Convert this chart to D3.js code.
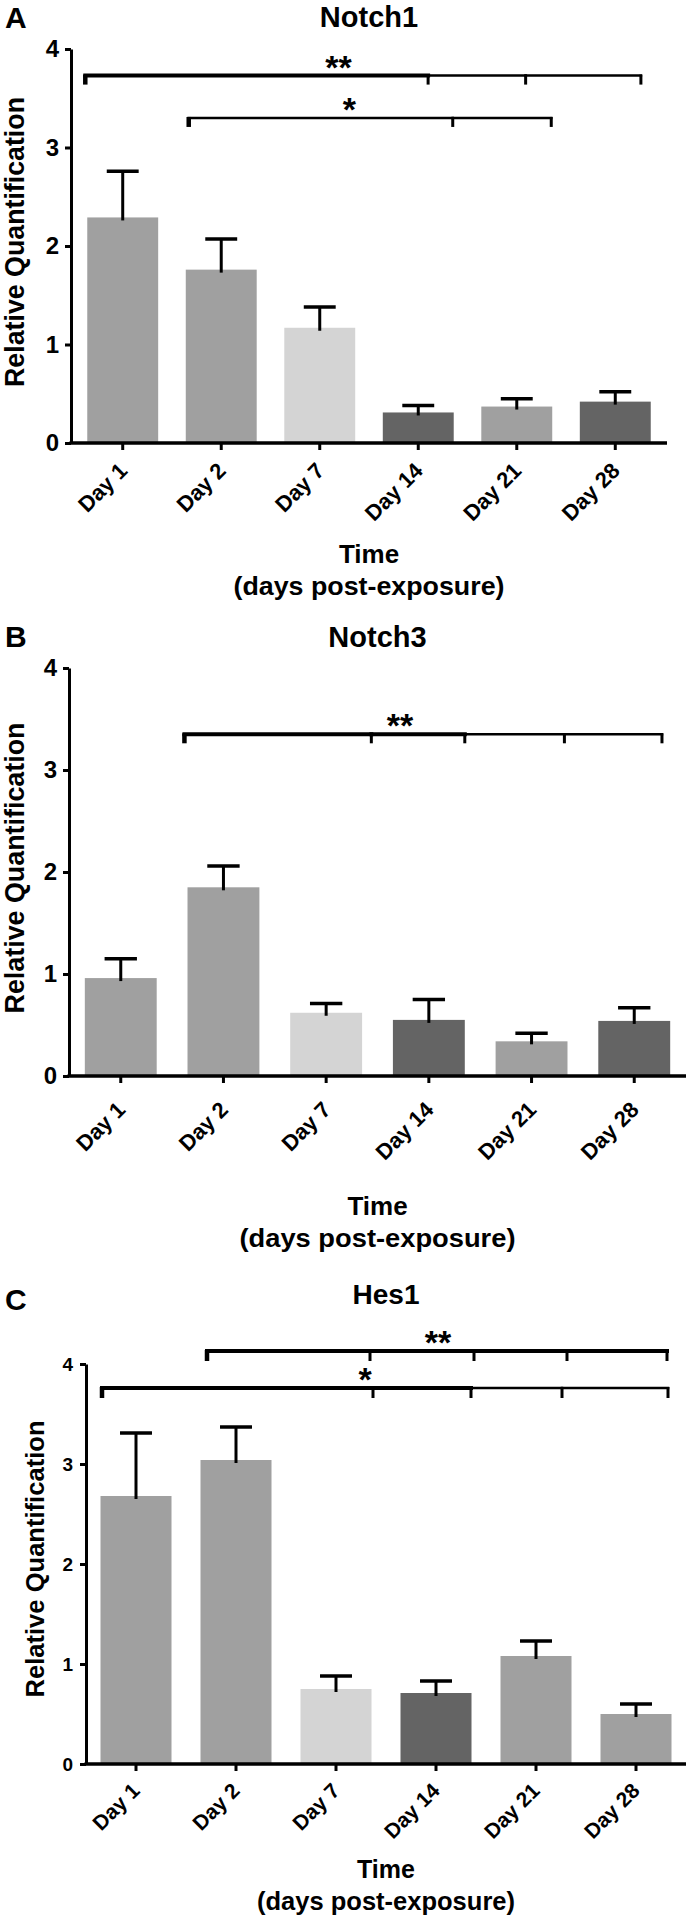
<!DOCTYPE html>
<html>
<head>
<meta charset="utf-8">
<script src="https://cdn.jsdelivr.net/npm/d3@7"></script>
<style>
  body { margin: 0; background: #fff; }
  svg { display: block; background: #fff; }
  text { font-family: "Liberation Sans", Arial, sans-serif; font-weight: bold; fill: #000; }
</style>
</head>
<body>
<svg id="chart" width="690" height="1919"></svg>
<script>
// ---------------- DATA ----------------
const categories = ["Day 1", "Day 2", "Day 7", "Day 14", "Day 21", "Day 28"];
const yTicks = [0, 1, 2, 3, 4];

const notch1Values = [2.29, 1.76, 1.17, 0.31, 0.37, 0.42];
const notch1Errors = [0.47, 0.31, 0.21, 0.07, 0.08, 0.10];
const notch1Shades = ["mid", "mid", "light", "dark", "mid", "dark"];

const notch3Values = [0.96, 1.85, 0.62, 0.55, 0.34, 0.54];
const notch3Errors = [0.19, 0.21, 0.09, 0.20, 0.08, 0.13];
const notch3Shades = ["mid", "mid", "light", "dark", "mid", "dark"];

const hes1Values = [2.68, 3.04, 0.75, 0.71, 1.08, 0.50];
const hes1Errors = [0.63, 0.33, 0.13, 0.12, 0.15, 0.10];
const hes1Shades = ["mid", "mid", "light", "dark", "mid", "mid"];

// significance brackets: y in data units, points / label position in category-index units
const notch1Brackets = [
  { label: "**", y: 3.73, points: [-0.38, 3.10, 4.09, 5.26], thickTo: 1, labelAt: 2.19 },
  { label: "*",  y: 3.30, points: [0.67, 3.35, 4.35],        thickTo: 0, labelAt: 2.30 }
];
const notch3Brackets = [
  { label: "**", y: 3.35, points: [0.62, 2.44, 3.35, 4.32, 5.27], thickTo: 2, labelAt: 2.72 }
];
const hes1Brackets = [
  { label: "**", y: 4.13, points: [0.71, 2.34, 3.38, 4.31, 5.31], thickTo: 4, labelAt: 3.02 },
  { label: "*",  y: 3.76, points: [-0.34, 2.37, 3.35, 4.26, 5.32], thickTo: 2, labelAt: 2.29 }
];

const yTitle = "Relative Quantification";
const xTitle = "Time";
const xSubTitle = "(days post-exposure)";

// ---------------- STYLE ----------------
const shadeColors = { mid: "#a0a0a0", light: "#d4d4d4", dark: "#646464" };
const FONT = "'Liberation Sans', Arial, sans-serif";

const svg = d3.select("#chart");

function drawPanel(cfg) {
  const g = svg.append("g");

  const x = d3.scaleBand()
    .domain(categories)
    .range([cfg.x0, cfg.x1])
    .paddingInner(cfg.padInner)
    .paddingOuter(cfg.padOuter);
  const y = d3.scaleLinear().domain([0, 4]).range([cfg.yBottom, cfg.yTop]);
  const idx = d3.scaleLinear()
    .domain([0, categories.length - 1])
    .range([x(categories[0]) + x.bandwidth() / 2, x(categories[categories.length - 1]) + x.bandwidth() / 2]);

  // panel letter and title
  g.append("text").attr("x", cfg.letterX).attr("y", cfg.letterY)
    .style("font-size", cfg.letterFont + "px").text(cfg.letter);
  g.append("text").attr("x", (cfg.x0 + cfg.x1) / 2).attr("y", cfg.titleY)
    .attr("text-anchor", "middle").style("font-size", cfg.titleFont + "px").text(cfg.title);

  // bars
  const data = categories.map((c, i) => ({ c, v: cfg.values[i], e: cfg.errors[i], s: cfg.shades[i] }));
  g.selectAll("rect.bar").data(data).enter().append("rect")
    .attr("class", "bar")
    .attr("x", d => x(d.c))
    .attr("width", x.bandwidth())
    .attr("y", d => y(d.v))
    .attr("height", d => y(0) - y(d.v))
    .attr("fill", d => shadeColors[d.s]);

  // error bars (upper)
  const capW = x.bandwidth() * 0.45;
  const eb = g.selectAll("g.err").data(data).enter().append("g").attr("class", "err");
  eb.append("line")
    .attr("x1", d => x(d.c) + x.bandwidth() / 2).attr("x2", d => x(d.c) + x.bandwidth() / 2)
    .attr("y1", d => y(d.v) + 3).attr("y2", d => y(d.v + d.e))
    .attr("stroke", "#000").attr("stroke-width", 3);
  eb.append("line")
    .attr("x1", d => x(d.c) + x.bandwidth() / 2 - capW / 2)
    .attr("x2", d => x(d.c) + x.bandwidth() / 2 + capW / 2)
    .attr("y1", d => y(d.v + d.e)).attr("y2", d => y(d.v + d.e))
    .attr("stroke", "#000").attr("stroke-width", 3.5);

  // y axis
  const yAxis = g.append("g").attr("transform", `translate(${cfg.x0},0)`)
    .call(d3.axisLeft(y).tickValues(yTicks).tickFormat(d3.format("d")).tickSize(6).tickSizeOuter(0).tickPadding(cfg.yTickPad));
  yAxis.select(".domain").attr("stroke", "#000").attr("stroke-width", 3);
  yAxis.selectAll(".tick line").attr("stroke", "#000").attr("stroke-width", 3);
  yAxis.selectAll(".tick text").style("font-size", cfg.tickFont + "px")
    .style("font-family", FONT).style("font-weight", "bold").attr("fill", "#000");

  // x axis
  const xAxis = g.append("g").attr("transform", `translate(0,${cfg.yBottom})`)
    .call(d3.axisBottom(x).tickSize(7).tickSizeOuter(0).tickPadding(0));
  xAxis.select(".domain").remove();
  xAxis.append("line").attr("x1", cfg.x0 - 1.5).attr("x2", cfg.x1).attr("y1", 0).attr("y2", 0)
    .attr("stroke", "#000").attr("stroke-width", 3.5);
  xAxis.selectAll(".tick line").attr("stroke", "#000").attr("stroke-width", 3);
  xAxis.selectAll(".tick text")
    .style("font-size", cfg.labelFont + "px")
    .style("font-family", FONT).style("font-weight", "bold")
    .attr("fill", "#000")
    .attr("text-anchor", "end")
    .attr("dy", null)
    .attr("y", 0)
    .attr("transform", `translate(${cfg.labelDx},${cfg.labelDy}) rotate(-45)`);

  // axis titles
  g.append("text")
    .attr("transform", `translate(${cfg.yTitleX},${cfg.yTitleCY}) rotate(-90)`)
    .attr("text-anchor", "middle")
    .style("font-size", cfg.yTitleFont + "px")
    .attr("textLength", cfg.yTitleLen).attr("lengthAdjust", "spacingAndGlyphs")
    .text(yTitle);
  g.append("text").attr("x", (cfg.x0 + cfg.x1) / 2).attr("y", cfg.timeY)
    .attr("text-anchor", "middle").style("font-size", cfg.axisFont + "px").text(xTitle);
  g.append("text").attr("x", (cfg.x0 + cfg.x1) / 2).attr("y", cfg.subY)
    .attr("text-anchor", "middle").style("font-size", cfg.axisFont + "px")
    .attr("textLength", cfg.subLen).attr("lengthAdjust", "spacingAndGlyphs")
    .text(xSubTitle);

  // significance brackets
  cfg.brackets.forEach(b => {
    const by = y(b.y);
    const pts = b.points.map(p => idx(p));
    const bg = g.append("g");
    for (let i = 0; i < pts.length - 1; i++) {
      bg.append("line")
        .attr("x1", pts[i]).attr("x2", pts[i + 1])
        .attr("y1", by).attr("y2", by)
        .attr("stroke", "#000")
        .attr("stroke-width", i < b.thickTo ? 4 : 2.5)
        .attr("stroke-linecap", "square");
    }
    pts.forEach((p, i) => {
      bg.append("line")
        .attr("x1", p).attr("x2", p)
        .attr("y1", by - 1).attr("y2", by + cfg.drop)
        .attr("stroke", "#000").attr("stroke-width", i === 0 ? 4.5 : 3);
    });
    bg.append("text").attr("x", idx(b.labelAt)).attr("y", by + 3)
      .attr("text-anchor", "middle").style("font-size", cfg.sigFont + "px")
      .text(b.label);
  });
}

drawPanel({
  letter: "A", letterX: 5, letterY: 28, letterFont: 30,
  title: "Notch1", titleY: 27, titleFont: 29,
  values: notch1Values, errors: notch1Errors, shades: notch1Shades, brackets: notch1Brackets,
  x0: 71, x1: 667, yTop: 49, yBottom: 443, padInner: 0.28, padOuter: 0.165,
  tickFont: 24, yTickPad: 6, labelFont: 22, labelDx: 6, labelDy: 29,
  yTitleX: 24, yTitleCY: 242, yTitleFont: 27, yTitleLen: 290,
  timeY: 563, subY: 595, subLen: 271, axisFont: 26, sigFont: 34, drop: 9
});

drawPanel({
  letter: "B", letterX: 5, letterY: 647, letterFont: 30,
  title: "Notch3", titleY: 647, titleFont: 29,
  values: notch3Values, errors: notch3Errors, shades: notch3Shades, brackets: notch3Brackets,
  x0: 69, x1: 686, yTop: 668, yBottom: 1076, padInner: 0.3, padOuter: 0.154,
  tickFont: 24, yTickPad: 6, labelFont: 22, labelDx: 6, labelDy: 35,
  yTitleX: 24, yTitleCY: 868, yTitleFont: 27, yTitleLen: 291,
  timeY: 1215, subY: 1247, subLen: 276, axisFont: 26, sigFont: 34, drop: 9
});

drawPanel({
  letter: "C", letterX: 5, letterY: 1310, letterFont: 30,
  title: "Hes1", titleY: 1304, titleFont: 28,
  values: hes1Values, errors: hes1Errors, shades: hes1Shades, brackets: hes1Brackets,
  x0: 86, x1: 686, yTop: 1364, yBottom: 1764, padInner: 0.29, padOuter: 0.145,
  tickFont: 19, yTickPad: 7, labelFont: 21, labelDx: 5, labelDy: 28,
  yTitleX: 44, yTitleCY: 1559, yTitleFont: 25, yTitleLen: 277,
  timeY: 1878, subY: 1910, subLen: 258, axisFont: 25, sigFont: 34, drop: 10
});
</script>
</body>
</html>
